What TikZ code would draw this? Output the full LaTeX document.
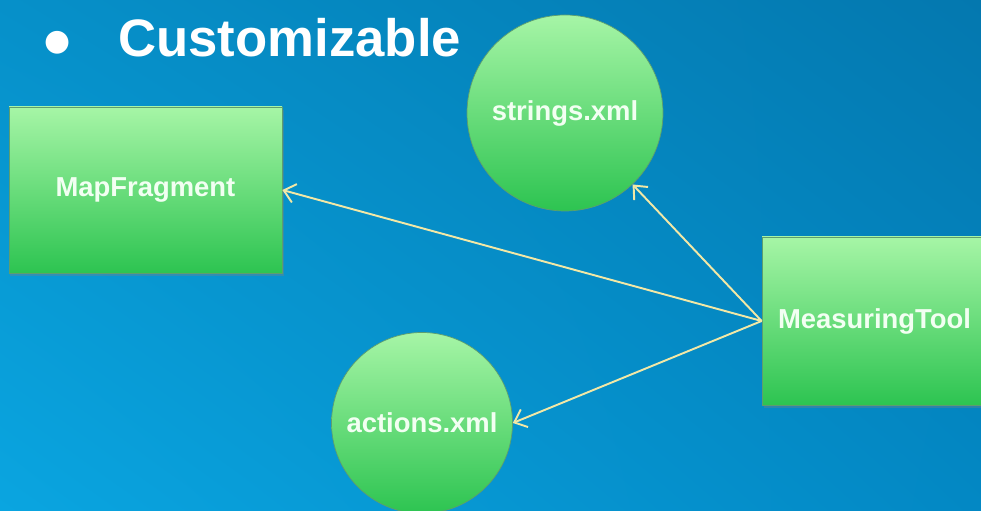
\documentclass[tikz,border=0pt]{standalone}
\usepackage{fontspec}
\setmainfont{Liberation Sans}
\newfontfamily\dejavu{DejaVu Sans}
\usetikzlibrary{arrows.meta,shadows,shadings}

\definecolor{bgul}{HTML}{0690C9}
\definecolor{bgur}{HTML}{0478AF}
\definecolor{bgll}{HTML}{0AA5E0}
\definecolor{bglr}{HTML}{0388C4}
\definecolor{greentop}{HTML}{A6F5A6}
\definecolor{greenbot}{HTML}{2DC451}
\definecolor{greenline}{HTML}{5E9E6E}
\definecolor{labeltext}{HTML}{F2FFF2}
\definecolor{linkyellow}{HTML}{F2E8A6}

\tikzstyle{heading}=[inner sep=0pt, text=white, font=\bfseries\fontsize{30}{36}\selectfont]
\tikzstyle{bulletmark}=[inner sep=0pt, text=white, font=\dejavu\fontsize{17}{20}\selectfont]
\tikzstyle{box}=[rectangle, draw=greenline, line width=0.4pt, top color=greentop, bottom color=greenbot,
                 minimum width=5.46cm, minimum height=3.32cm, text=labeltext,
                 font=\bfseries\fontsize{15.6}{18}\selectfont,
                 drop shadow={opacity=0.35, shadow xshift=0.03cm, shadow yshift=-0.06cm}]
\tikzstyle{bubble}=[circle, draw=greenline, line width=0.4pt, top color=greentop, bottom color=greenbot,
                    inner sep=0pt, text=labeltext, font=\bfseries\fontsize{15.6}{18}\selectfont]
\tikzstyle{link}=[draw=linkyellow, line width=1.1pt, -{Straight Barb[length=2.2mm,width=3.8mm]}]

\begin{document}
\begin{tikzpicture}
        \useasboundingbox (0,0) rectangle (19.62,10.22);
        \shade[upper left=bgul, upper right=bgur, lower left=bgll, lower right=bglr] (0,0) rectangle (19.62,10.22);
        %
        \draw (1.16,9.36) node[bulletmark](bullet){●};
        \draw (2.36,9.08) node[heading, anchor=base west](title){Customizable};
        \draw (2.91,6.42) node[box](mapfrag){MapFragment};
        \draw (11.30,7.96) node[bubble, minimum size=3.92cm](strings){strings.xml};
        \draw (8.44,1.76) node[bubble, minimum size=3.62cm](actions){actions.xml};
        \draw (17.49,3.80) node[box, minimum width=4.5cm, minimum height=3.36cm](tool){MeasuringTool};
        %
        \path
            (tool.west)     edge[link]     (mapfrag.east)
            (tool.west)     edge[link]     (strings)
            (tool.west)     edge[link]     (actions.east)
        ;
\end{tikzpicture}
\end{document}
